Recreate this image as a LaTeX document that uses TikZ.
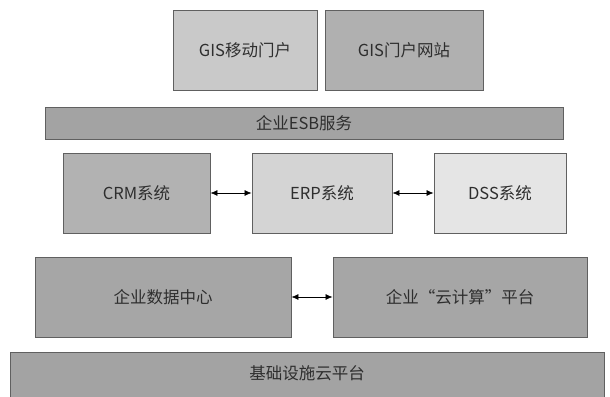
\documentclass[tikz,border=0pt]{standalone}
\usepackage{fontspec}
\newfontfamily\cjk{Noto Sans CJK SC}
\usepackage{tikz}
\usetikzlibrary{arrows.meta,positioning}
\usepackage{xcolor}
\definecolor{edgegray}{HTML}{606060}
\definecolor{textgray}{HTML}{2E2E2E}

\begin{document}
\begin{tikzpicture}[x=1pt,y=-1pt,
  layer/.style={draw=edgegray, line width=0.9pt, inner sep=0pt, minimum height=80pt,
    text=textgray, font=\cjk\fontsize{16.5}{18}\selectfont},
  link/.style={{Latex[length=7pt,width=6pt]}-{Latex[length=7pt,width=6pt]}, line width=0.7pt, black}]
\clip (0,0) rectangle (610,396);
\fill[white] (0,0) rectangle (610,396);

%GIS portals
\node[layer, fill=black!21, minimum width=144pt] (gismob) at (245,50) {GIS移动门户};
\node[layer, fill=black!31, minimum width=158pt] (gisweb) at (404,50) {GIS门户网站};

%ESB bus
\node[layer, fill=black!36, minimum width=518pt, minimum height=32pt] (esb) at (304,123) {企业ESB服务};

%Business systems
\node[layer, fill=black!30, minimum width=147pt] (crm) at (136.5,193) {CRM系统};
\node[layer, fill=black!17, minimum width=140pt] (erp) at (322,193) {ERP系统};
\node[layer, fill=black!10, minimum width=132pt] (dss) at (500,193) {DSS系统};
\draw[link] (crm.east) -- (erp.west);
\draw[link] (erp.east) -- (dss.west);

%Data centre and cloud
\node[layer, fill=black!35, minimum width=256pt] (dc) at (163,297) {企业数据中心};
\node[layer, fill=black!35, minimum width=254pt] (cloud) at (460,297) {企业“云计算”平台};
\draw[link] (dc.east) -- (cloud.west);

%Infrastructure
\node[layer, fill=black!36, minimum width=594pt, minimum height=50pt] (infra) at (307,377) {};
\node[text=textgray, font=\cjk\fontsize{16.5}{18}\selectfont] (infratext) at (307,373) {基础设施云平台};
\end{tikzpicture}
\end{document}
